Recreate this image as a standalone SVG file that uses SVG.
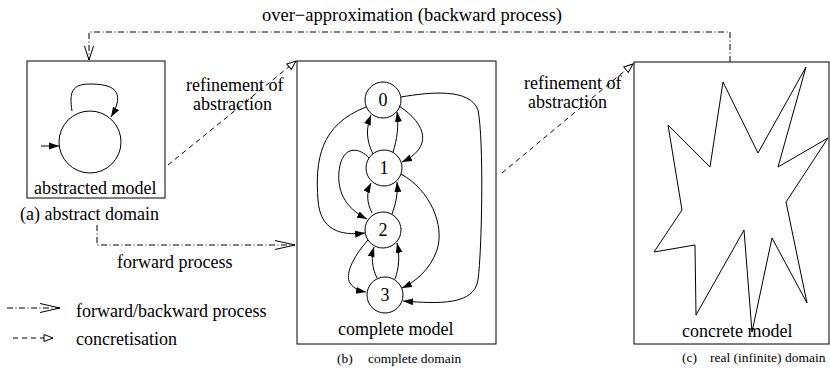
<svg xmlns="http://www.w3.org/2000/svg" width="830" height="380" viewBox="0 0 830 380">
<style>
text{font-family:"Liberation Serif","Times New Roman",serif;font-size:18px;fill:#000}
.cap{font-size:13.5px}
.box{fill:#fff;stroke:#000;stroke-width:1}
.node{fill:#fff;stroke:#000;stroke-width:1}
.edge{fill:none;stroke:#000;stroke-width:1;marker-end:url(#fill)}
.dd{fill:none;stroke:#000;stroke-width:1;stroke-dasharray:6 2.5 1 2.5}
.da{fill:none;stroke:#000;stroke-width:1;stroke-dasharray:5 4}
.num{text-anchor:middle}
</style>
<defs>
<marker id="fill" markerUnits="userSpaceOnUse" viewBox="0 0 10 8" refX="10" refY="4" markerWidth="10" markerHeight="8" orient="auto">
<path d="M0,0.5 L10,4 L0,7.5 Z" fill="#000"/>
</marker>
<marker id="vee" markerUnits="userSpaceOnUse" viewBox="-1 -1 22 12" refX="20" refY="5" markerWidth="22" markerHeight="12" orient="auto" overflow="visible">
<path d="M0,0.5 L20,5 L0,9.5" fill="none" stroke="#000" stroke-width="1"/>
</marker>
<marker id="veeS" markerUnits="userSpaceOnUse" viewBox="-1 -1 16 12" refX="14" refY="5" markerWidth="16" markerHeight="12" orient="auto" overflow="visible">
<path d="M0,0.5 L14,5 L0,9.5" fill="none" stroke="#000" stroke-width="1"/>
</marker>
<marker id="tri" markerUnits="userSpaceOnUse" viewBox="-1 -1 11 10" refX="9" refY="4" markerWidth="11" markerHeight="10" orient="auto" overflow="visible">
<path d="M0,0.5 L9,4 L0,7.5 Z" fill="#fff" stroke="#000" stroke-width="1"/>
</marker>
</defs>

<g id="abstract-domain">
<rect class="box" x="27" y="61" width="138" height="137"/>
<circle class="node" cx="90" cy="142" r="31"/>
<path class="edge" d="M72,111 C69,92 72,84 90,84 C112,84 127,90 111,117"/>
<path class="edge" d="M41,146 L59,146"/>
<text x="34" y="194">abstracted model</text>
<text x="20" y="220">(a) abstract domain</text>
</g>

<g id="complete-domain">
<rect class="box" x="297" y="61" width="199" height="283"/>
<text x="338" y="335">complete model</text>
<text class="cap" x="337" y="363">(b)</text>
<text class="cap" x="368" y="363">complete domain</text>
</g>

<g id="node-0"><circle class="node" cx="383" cy="100" r="18"/><text class="num" x="383" y="106">0</text></g>
<g id="node-1"><circle class="node" cx="384" cy="168" r="18"/><text class="num" x="384" y="174">1</text></g>
<g id="node-2"><circle class="node" cx="383" cy="230" r="18"/><text class="num" x="383" y="236">2</text></g>
<g id="node-3"><circle class="node" cx="385" cy="295" r="18"/><text class="num" x="385" y="301">3</text></g>

<g id="concrete-domain">
<rect class="box" x="634" y="62" width="195" height="282"/>
<polygon fill="none" stroke="#000" stroke-width="1" points="668,125 710,167 723,82 758,153 806,67 778,167 828,138 786,202 807,303 772,238 752,332 744,230 696,315 695,245 654,252 682,210"/>
<text x="682" y="337">concrete model</text>
<text class="cap" x="682" y="362">(c)</text>
<text class="cap" x="710" y="362">real (infinite) domain</text>
</g>

<g id="connectors">
<path class="edge" d="M399,106 C428,125 432,148 402,162"/>
<path class="edge" d="M373,154 C366,140 366,128 371,115"/>
<path class="edge" d="M393,152 C397,140 399,125 397,112"/>
<path class="edge" d="M366,107 C320,125 315,160 318,200 C320,230 340,236 365,233"/>
<path class="edge" d="M369,158 C360,148 345,145 340,165 C335,190 345,208 367,219"/>
<path class="edge" d="M372,213 C367,203 366,193 371,183"/>
<path class="edge" d="M392,214 C396,203 398,193 397,182"/>
<path class="edge" d="M401,174 C430,190 445,225 437,250 C430,270 415,282 402,288"/>
<path class="edge" d="M401,97 C430,92 470,88 478,110 C484,140 482,250 478,280 C474,305 440,304 403,301"/>
<path class="edge" d="M368,240 C352,258 345,275 350,283 C354,289 360,291 366,292"/>
<path class="edge" d="M377,278 C372,268 371,257 374,247"/>
<path class="edge" d="M395,279 C399,268 400,256 397,243"/>

<path class="dd" d="M730,62 L730,32 L89,32 L89,60" marker-end="url(#veeS)"/>
<path class="dd" d="M97,225 L97,245 L295,245" marker-end="url(#vee)"/>
<path class="da" d="M168,165 L296,61" marker-end="url(#tri)"/>
<path class="da" d="M502,173 L633,64" marker-end="url(#tri)"/>
<path class="dd" d="M7,308 L60,308" marker-end="url(#vee)"/>
<path class="da" d="M13,338 L53,338" marker-end="url(#tri)"/>
</g>

<g id="labels">
<text x="262" y="21" textLength="300" lengthAdjust="spacingAndGlyphs">over−approximation (backward process)</text>
<text x="186" y="91">refinement of</text>
<text x="193" y="110">abstraction</text>
<text x="524" y="89">refinement of</text>
<text x="528" y="108">abstraction</text>
<text x="117" y="268">forward process</text>
<text x="76" y="317">forward/backward process</text>
<text x="76" y="345">concretisation</text>
</g>
</svg>
